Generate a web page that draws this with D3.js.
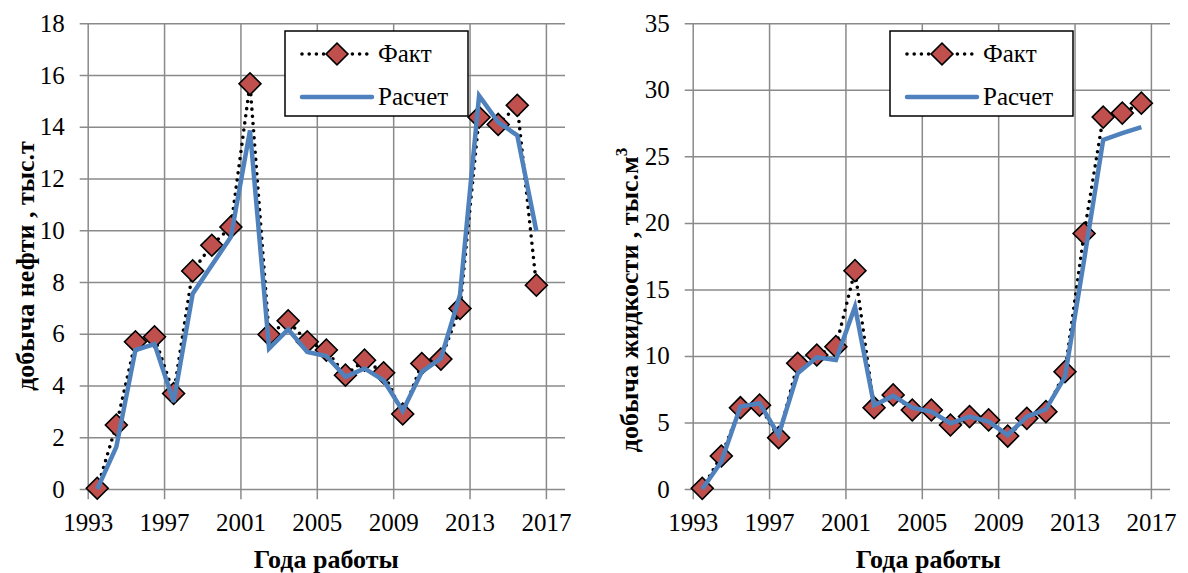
<!DOCTYPE html>
<html>
<head>
<meta charset="utf-8">
<script src="https://cdn.jsdelivr.net/npm/d3@7"></script>
</head>
<body style="margin:0; background:#fff">
<svg width="1188" height="573" style="display:block"></svg>
<script>
// years of production (points are plotted mid-year)
const years = d3.range(1993, 2017);

// oil production, thousand t
const oilFact = [0.03, 2.47, 5.69, 5.88, 3.69, 8.43, 9.42, 10.13, 15.66, 5.97, 6.5, 5.69,
  5.37, 4.4, 4.98, 4.49, 2.9, 4.85, 5.02, 6.98, 14.37, 14.09, 14.83, 7.88];
const oilCalc = [0, 1.63, 5.37, 5.6, 3.37, 7.55, 8.65, 9.74, 13.86, 5.43, 6.17, 5.3,
  5.14, 4.34, 4.66, 4.2, 3.02, 4.53, 5.05, 7.5, 15.2, 14.18, 13.67, 9.97];

// liquid production, thousand m3
const liqFact = [0.05, 2.48, 6.11, 6.3, 3.86, 9.45, 10.07, 10.7, 16.41, 6.11, 7.07, 5.94,
  5.94, 4.81, 5.44, 5.19, 3.98, 5.31, 5.81, 8.82, 19.2, 27.95, 28.25, 29.0];
const liqCalc = [0, 2.05, 6.19, 6.44, 4.06, 8.7, 9.9, 9.7, 13.7, 6.3, 7.0, 6.11,
  5.81, 4.94, 5.44, 5.06, 4.06, 5.44, 5.99, 8.44, 17.2, 26.24, 26.74, 27.19];

const xTicks = [1993, 1997, 2001, 2005, 2009, 2013, 2017];
const legendNames = ["Факт", "Расчет"];

const svg = d3.select("svg");
const red = "#C0504D", blue = "#4F81BD", gridCol = "#8a8a8a";
const serif = "'Liberation Serif', 'Times New Roman', serif";

function drawPanel(p) {
  const g = svg.append("g");
  const x = d3.scaleLinear().domain([1993, 2018]).range([p.left, p.right]);
  const y = d3.scaleLinear().domain([0, p.yMax]).range([489, 23.3]);

  // horizontal grid + y labels
  g.append("g")
    .attr("transform", "translate(" + p.right + ",0)")
    .call(d3.axisLeft(y).tickValues(d3.range(0, p.yMax + 0.01, p.yStep))
      .tickSize(p.right - p.left + 8).tickPadding(15))
    .call(a => a.select(".domain").remove())
    .call(a => a.selectAll("line").attr("stroke", gridCol).attr("stroke-width", 1.5))
    .call(a => a.selectAll("text").attr("fill", "#000")
      .style("font-family", serif).style("font-size", "25px"));

  // vertical grid + x labels
  g.append("g")
    .attr("transform", "translate(0,23.3)")
    .call(d3.axisBottom(x).tickValues(xTicks).tickFormat(d3.format("d"))
      .tickSize(476).tickPadding(14))
    .call(a => a.select(".domain").remove())
    .call(a => a.selectAll("line").attr("stroke", gridCol).attr("stroke-width", 1.5))
    .call(a => a.selectAll("text").attr("fill", "#000")
      .style("font-family", serif).style("font-size", "25px"));

  const fact = years.map((yr, i) => ({ yr: yr + 0.5, v: p.fact[i] }));
  const calc = years.map((yr, i) => ({ yr: yr + 0.5, v: p.calc[i] }));
  const line = d3.line().x(d => x(d.yr)).y(d => y(d.v));

  g.append("path").datum(fact).attr("d", line)
    .attr("fill", "none").attr("stroke", "#000").attr("stroke-width", 3.6)
    .attr("stroke-linecap", "round").attr("stroke-dasharray", "0,7.2");

  const diamond = d3.symbol().type(d3.symbolSquare).size(240);
  g.selectAll(".pt").data(fact).enter().append("path")
    .attr("class", "pt")
    .attr("d", diamond)
    .attr("transform", d => "translate(" + x(d.yr) + "," + y(d.v) + ") rotate(45)")
    .attr("fill", red).attr("stroke", "#000").attr("stroke-width", 1.6);

  g.append("path").datum(calc).attr("d", line)
    .attr("fill", "none").attr("stroke", blue).attr("stroke-width", 4.5)
    .attr("stroke-linejoin", "miter");

  // legend
  const lg = g.append("g").attr("transform", "translate(" + p.legX + ",31)");
  lg.append("rect").attr("width", 183).attr("height", 85)
    .attr("fill", "#fff").attr("stroke", "#000").attr("stroke-width", 1.5);
  lg.append("line").attr("x1", 17).attr("x2", 87).attr("y1", 23).attr("y2", 23)
    .attr("stroke", "#000").attr("stroke-width", 3.6)
    .attr("stroke-linecap", "round").attr("stroke-dasharray", "0,7.2");
  lg.append("path").attr("d", diamond)
    .attr("transform", "translate(52,23) rotate(45)")
    .attr("fill", red).attr("stroke", "#000").attr("stroke-width", 1.6);
  lg.append("line").attr("x1", 17).attr("x2", 87).attr("y1", 66).attr("y2", 66)
    .attr("stroke", blue).attr("stroke-width", 4.5).attr("stroke-linecap", "round");
  lg.selectAll(".lt").data(legendNames).enter().append("text")
    .attr("x", 93).attr("y", (d, i) => 31 + i * 43)
    .style("font-family", serif).style("font-size", "25px").text(d => d);

  // axis titles
  g.append("text")
    .attr("x", (p.left + p.right) / 2 + p.xtShift).attr("y", 568)
    .attr("text-anchor", "middle")
    .style("font-family", serif).style("font-size", "26px").style("font-weight", "bold")
    .text("Года работы");

  const yt = g.append("text")
    .attr("transform", "translate(" + p.titleX + "," + p.titleY + ") rotate(-90)")
    .attr("text-anchor", "middle")
    .style("font-family", serif).style("font-size", "26px").style("font-weight", "bold")
    .text(p.yTitle);
  if (p.sup) {
    yt.append("tspan").attr("dy", -11).style("font-size", "17px").text(p.sup);
  }
}

drawPanel({ left: 87.7, right: 565, yMax: 18, yStep: 2, fact: oilFact, calc: oilCalc,
  legX: 285, titleX: 34, titleY: 266, xtShift: 0, yTitle: "добыча нефти , тыс.т" });
drawPanel({ left: 692.7, right: 1170, yMax: 35, yStep: 5, fact: liqFact, calc: liqCalc,
  legX: 890, titleX: 638, titleY: 300, xtShift: -3, yTitle: "добыча жидкости , тыс.м", sup: "3" });
</script>
</body>
</html>
